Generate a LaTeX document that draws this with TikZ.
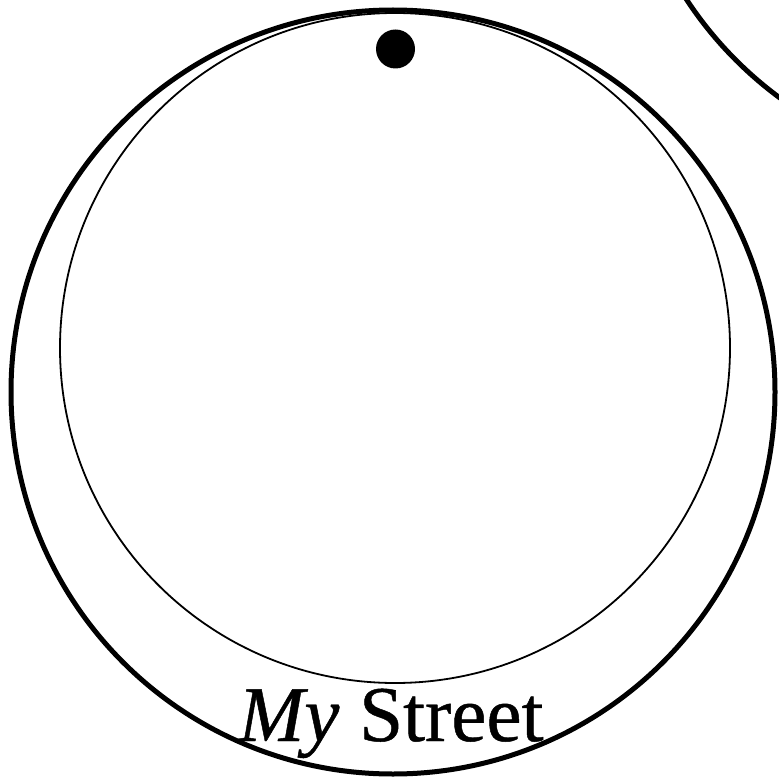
\documentclass[tikz,border=0pt]{standalone}
\usepackage{fontspec}
\setmainfont{Liberation Serif}
\newfontfamily\streetfont{Liberation Serif}[FakeBold=0.6, ItalicFeatures={FakeBold=0.6}]
\begin{document}
\begin{tikzpicture}[
  x=1pt, y=-1pt,
  rim/.style={draw=black, line width=5pt},
  face/.style={draw=black, line width=1.8pt},
  lbl/.style={inner sep=0pt, font=\streetfont\fontsize{79}{79}\selectfont},
]
\useasboundingbox (0,0) rectangle (779,778);
\clip (0,0) rectangle (779,778);

% ---- pendant rim and face ----
\coordinate (rimc) at (393,392);
\coordinate (facec) at (395,348);
\draw[rim] (rimc) circle[radius=382pt];
\draw[face] (facec) circle[radius=335pt];

% ---- hanging hole ----
\coordinate (hole) at (395.5,49);
\fill (hole) circle[radius=19.5pt];

% ---- next pendant, cut by the edge ----
\coordinate (nextc) at (1006,-210);
\draw[rim] (nextc) circle[radius=382pt];

% ---- street name ----
\node[lbl, anchor=base] (street) at (391,741) {\textit{My} Street};
\end{tikzpicture}
\end{document}
